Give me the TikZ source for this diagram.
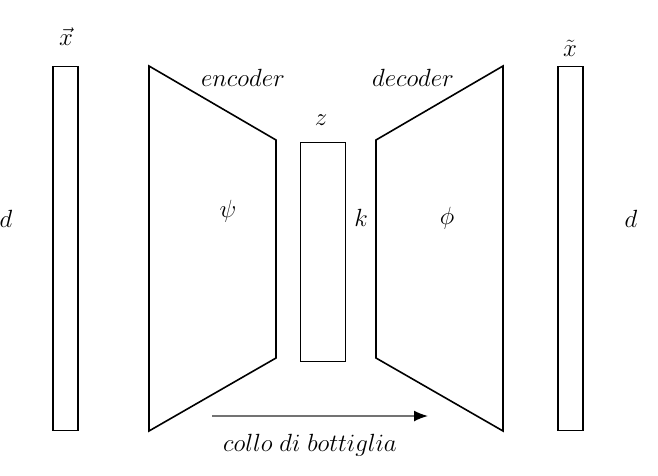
\documentclass[tikz,border=0pt]{standalone}
\usepackage{amsmath}
\usetikzlibrary{arrows.meta}
\tikzset{
	bar/.style={draw,line width=1.6pt,inner sep=0pt},
	net/.style={draw,line width=1.6pt,line join=miter},
	lbl/.style={font=\fontsize{23}{27}\selectfont,inner sep=0pt},
	edge/.style={draw=black!55,line width=1.6pt,-{Latex[length=14pt,width=11pt,color=black]}}
}
\begin{document}
\begin{tikzpicture}[x=1pt,y=-1pt]
		\useasboundingbox (0,0) rectangle (658,476);
		% vettori e bottleneck
		\node[bar,minimum width=25pt,minimum height=364pt] (xin) at (65.5,248.5) {};
		\node[bar,minimum width=45pt,minimum height=219pt] (z) at (323,252) {};
		\node[bar,minimum width=25pt,minimum height=364pt] (xout) at (570.5,248.5) {};
		
		% encoder / decoder
		\draw[net] (149,66) coordinate (e1) -- (276,140) coordinate (e2) -- (276,358) coordinate (e3) -- (149,431) coordinate (e4) -- cycle;
		\draw[net] (503,66) coordinate (d1) -- (376,140) coordinate (d2) -- (376,358) coordinate (d3) -- (503,431) coordinate (d4) -- cycle;
		
		\node[lbl] (lx) at (66,37) {$\vec{x}$};
		\node[lbl] (lxt) at (570,48) {$\tilde{x}$};
		\node[lbl] (lz) at (321,120) {$z$};
		\node[lbl] (ld1) at (6,219) {$d$};
		\node[lbl] (ld2) at (631,219) {$d$};
		\node[lbl] (lk) at (361,218) {$k$};
		\node[lbl] (lpsi) at (228,211) {$\psi$};
		\node[lbl] (lphi) at (447,218) {$\phi$};
		\node[lbl] (lenc) at (243,78) {$encoder$};
		\node[lbl] (ldec) at (413,78) {$decoder$};
		\node[lbl] (lcol) at (310,445) {$collo\ di\ bottiglia$};
		
		\coordinate (a0) at (212,416);
		\coordinate (a1) at (428,416);
		\draw[edge] (a0) -- (a1);
\end{tikzpicture}
\end{document}
